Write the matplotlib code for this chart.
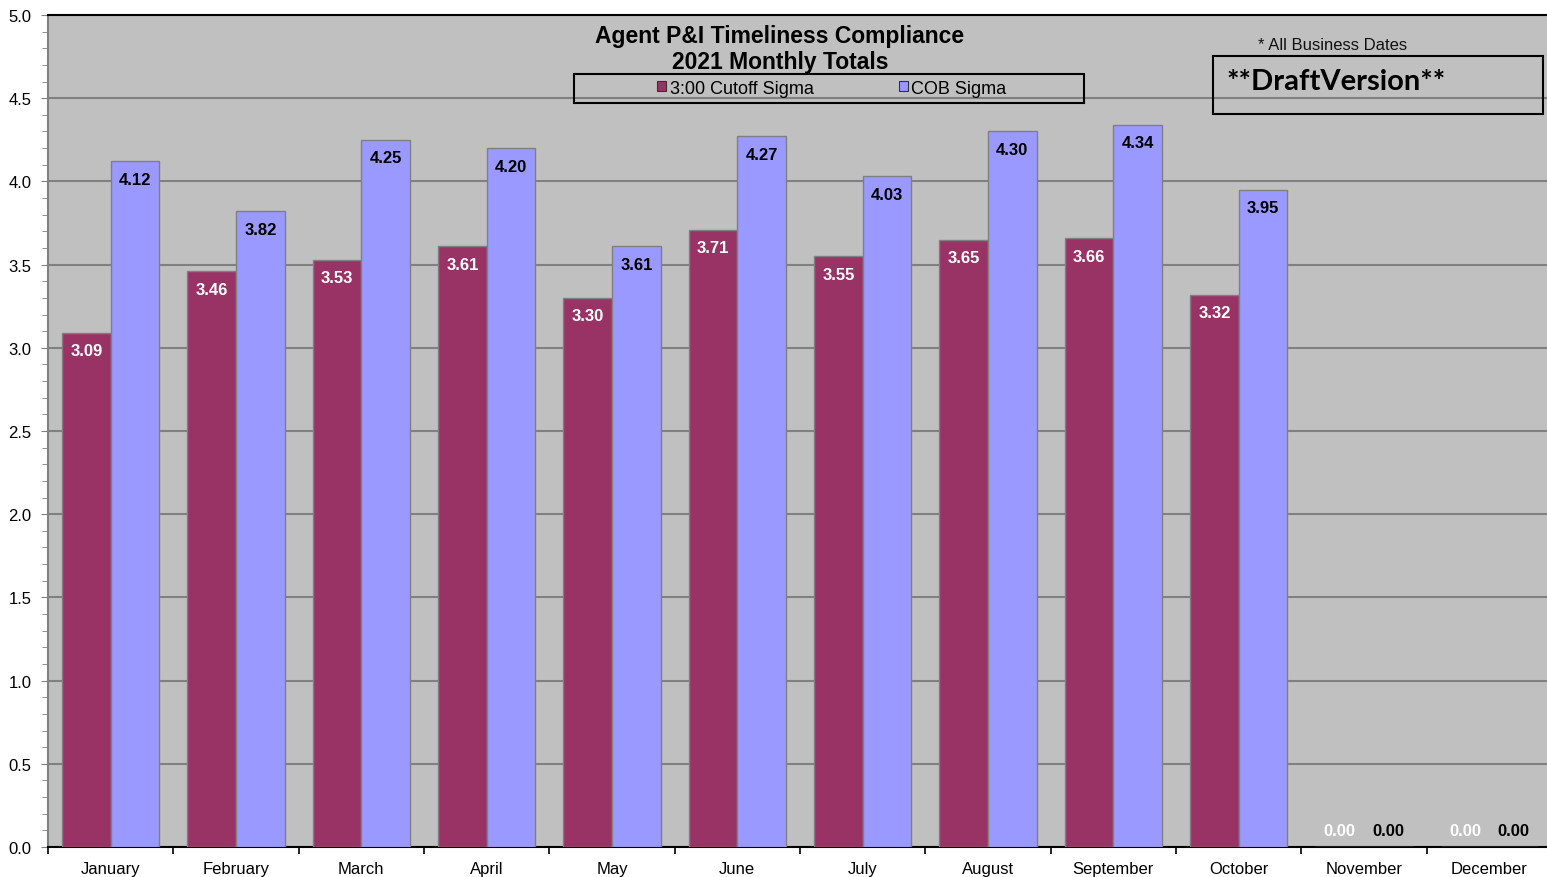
import numpy as np
import matplotlib
matplotlib.use("Agg")
import matplotlib.pyplot as plt
from matplotlib.patches import Rectangle, Patch
from matplotlib.ticker import MultipleLocator

plt.rcParams['font.family'] = ['Liberation Sans', 'DejaVu Sans']

# Données
mois = ['January', 'February', 'March', 'April', 'May', 'June', 'July',
        'August', 'September', 'October', 'November', 'December']
cutoff = [3.09, 3.46, 3.53, 3.61, 3.30, 3.71, 3.55, 3.65, 3.66, 3.32, 0.00, 0.00]
cob = [4.12, 3.82, 4.25, 4.20, 3.61, 4.27, 4.03, 4.30, 4.34, 3.95, 0.00, 0.00]

COUL_CUTOFF = '#993366'
COUL_COB = '#9999FF'
FOND = '#C0C0C0'
GRIS = '#808080'

fig = plt.figure(figsize=(15.47, 8.78), dpi=100)
ax = fig.add_axes([48 / 1547, 30 / 878, 1504 / 1547, 832 / 878])
ax.set_facecolor(FOND)

x = np.arange(len(mois))
w = 0.388
b1 = ax.bar(x - w / 2, cutoff, w, color=COUL_CUTOFF, edgecolor=GRIS, linewidth=1, zorder=3)
b2 = ax.bar(x + w / 2, cob, w, color=COUL_COB, edgecolor=GRIS, linewidth=1, zorder=3)

# Étiquettes des valeurs
def etiquettes(barres, valeurs, couleur):
    for r, v in zip(barres, valeurs):
        cx = r.get_x() + r.get_width() / 2
        dy = -13 if v > 0 else 12
        ax.annotate(f"{v:.2f}", (cx, v), xytext=(0, dy), textcoords='offset points',
                    ha='center', va='center', fontsize=12, fontweight='bold',
                    color=couleur, zorder=4)

etiquettes(b1, cutoff, 'white')
etiquettes(b2, cob, 'black')

# Axes
ax.set_xlim(-0.5, len(mois) - 0.5)
ax.set_ylim(0, 5)
ax.yaxis.set_major_locator(MultipleLocator(0.5))
ax.yaxis.set_minor_locator(MultipleLocator(0.1))
ax.yaxis.set_major_formatter(matplotlib.ticker.FormatStrFormatter('%.1f'))
ax.grid(axis='y', which='major', color=GRIS, linewidth=1.5, zorder=1)
ax.set_axisbelow(True)
ax.tick_params(axis='y', which='major', length=5, color=GRIS, labelsize=12, pad=7)
ax.tick_params(axis='y', which='minor', length=4, color=GRIS)

ax.set_xticks(np.arange(-0.5, len(mois)), labels=[''] * (len(mois) + 1))
ax.set_xticks(x, labels=mois, minor=True)
ax.tick_params(axis='x', which='major', length=5, color='black', width=1.2)
ax.tick_params(axis='x', which='minor', length=0, labelsize=12, pad=10)

ax.spines['left'].set_color(GRIS)
ax.spines['left'].set_linewidth(1.5)
ax.spines['bottom'].set_color('black')
ax.spines['bottom'].set_linewidth(1.5)
ax.spines['top'].set_color('black')
ax.spines['top'].set_linewidth(1.5)
ax.spines['right'].set_visible(False)

# Titre
fig.text(780 / 1547, 1 - 36 / 878, 'Agent P&I Timeliness Compliance', ha='center', va='center',
         fontsize=16.5, fontweight='bold')
fig.text(780 / 1547, 1 - 62 / 878, '2021 Monthly Totals', ha='center', va='center',
         fontsize=16.5, fontweight='bold')

# Légende
fig.patches.append(Rectangle((574 / 1547, 1 - 104 / 878), 510 / 1547, 29 / 878,
                             transform=fig.transFigure, facecolor='none',
                             edgecolor='black', linewidth=1.5, zorder=5))
poignees = [Patch(facecolor=COUL_CUTOFF, edgecolor='#333333', linewidth=0.8),
            Patch(facecolor=COUL_COB, edgecolor='#333333', linewidth=0.8)]
fig.legend(poignees, ['3:00 Cutoff Sigma', 'COB Sigma'], loc='center',
           bbox_to_anchor=(832 / 1547, 1 - 89 / 878), ncol=2, frameon=False,
           fontsize=13, handlelength=0.5, handleheight=0.5, handletextpad=0.2,
           columnspacing=4.7, borderpad=0)

# Note et version
fig.text(1258 / 1547, 1 - 45 / 878, '* All Business Dates', ha='left', va='center',
         fontsize=12, color='#111111')
fig.patches.append(Rectangle((1213 / 1547, 1 - 115 / 878), 330 / 1547, 58 / 878,
                             transform=fig.transFigure, facecolor='none',
                             edgecolor='black', linewidth=1.5, zorder=5))
fig.text(1226 / 1547, 1 - 82 / 878, '**DraftVersion**', ha='left', va='center',
         fontsize=21, fontweight='bold', family=['Lato', 'DejaVu Sans'])

fig.savefig('out.png', dpi=100)
